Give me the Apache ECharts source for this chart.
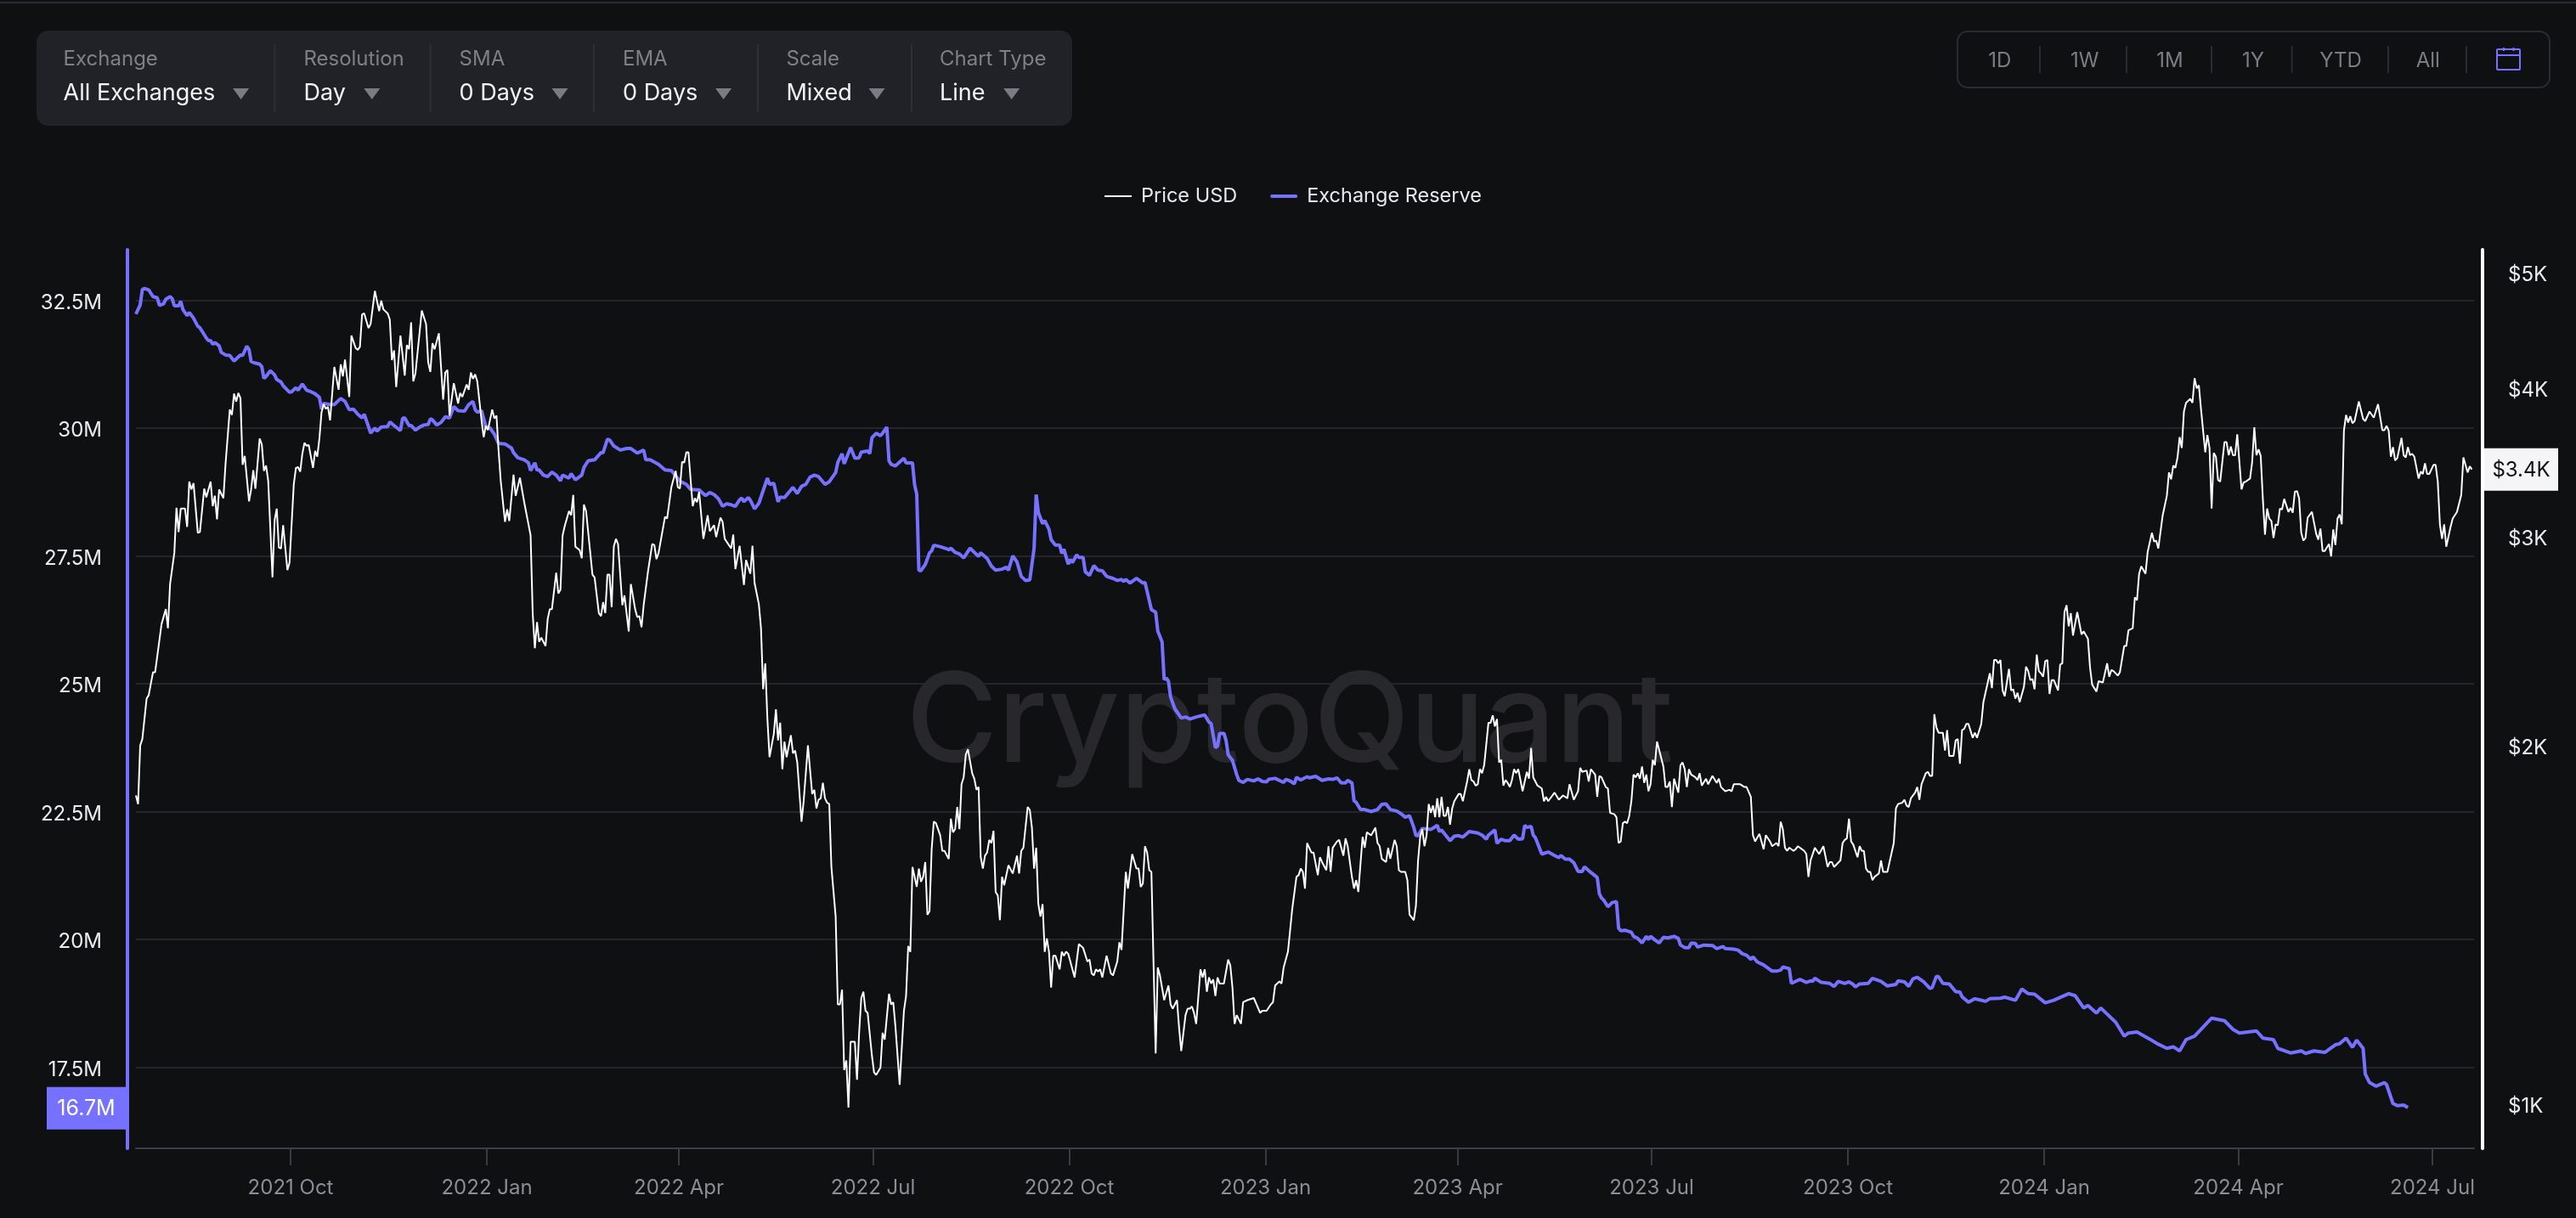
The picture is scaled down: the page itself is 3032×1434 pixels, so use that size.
<!DOCTYPE html>
<html><head><meta charset="utf-8">
<style>html,body{margin:0;padding:0;background:#0f1012}#c{width:3032px;height:1434px}</style>
<script src="https://cdn.jsdelivr.net/npm/echarts@6/dist/echarts.min.js"></script>
</head><body><div id="c"></div>
<script>
// day number (days after 2021-07-20), price in USD
const pricePoints = [[0,1820],[1,1790],[2,2005],[3,2030],[5,2195],[6,2210],[8,2310],[9,2310],[12,2535],[14,2610],[15,2515],[16,2740],[18,2910],[19,3175],[20,3030],[21,3170],[23,3170],[24,3060],[25,3340],[26,3290],[27,3330],[29,3025],[30,3030],[32,3295],[33,3240],[35,3340],[36,3185],[37,3250],[38,3105],[39,3290],[41,3235],[42,3455],[44,3840],[45,3800],[46,3960],[47,3900],[48,3965],[49,3925],[50,3450],[51,3510],[53,3215],[54,3290],[55,3415],[56,3295],[58,3630],[59,3590],[60,3410],[61,3445],[62,3345],[64,2775],[65,3100],[66,3170],[67,2940],[68,2935],[69,3070],[71,2815],[72,2855],[74,3325],[75,3430],[76,3435],[77,3405],[78,3525],[79,3600],[80,3580],[81,3585],[83,3430],[84,3545],[85,3505],[86,3630],[87,3820],[88,3880],[89,3845],[90,3860],[91,3760],[93,4170],[95,3990],[96,4190],[97,4095],[98,4230],[100,3935],[101,4430],[103,4325],[104,4310],[105,4335],[106,4615],[107,4625],[109,4495],[110,4530],[112,4830],[114,4645],[115,4740],[116,4660],[118,4625],[119,4570],[120,4225],[121,4305],[122,4010],[124,4430],[126,4100],[127,4350],[128,4315],[129,4545],[130,4055],[131,4115],[134,4650],[136,4530],[137,4205],[138,4130],[139,4365],[140,4315],[142,4450],[144,3915],[145,4125],[146,4145],[147,3795],[149,4040],[151,3885],[152,3965],[153,3935],[155,4030],[156,3990],[157,4125],[158,4075],[159,4110],[160,4055],[162,3760],[163,3640],[164,3720],[165,3690],[167,3840],[168,3775],[169,3795],[170,3545],[171,3345],[173,3090],[174,3165],[175,3095],[177,3385],[178,3250],[180,3365],[182,3210],[185,3010],[186,2585],[187,2420],[188,2545],[189,2450],[190,2470],[192,2430],[193,2560],[194,2610],[195,2610],[197,2800],[198,2690],[199,2710],[200,3010],[201,3065],[203,3155],[204,3130],[205,3255],[206,2945],[208,2925],[209,2880],[210,3195],[211,3155],[214,2790],[215,2775],[217,2590],[218,2575],[219,2645],[220,2590],[221,2790],[222,2790],[223,2620],[224,2945],[225,2990],[226,2960],[228,2630],[229,2680],[231,2500],[232,2740],[234,2610],[235,2570],[236,2575],[237,2520],[238,2630],[240,2805],[242,2960],[243,2955],[244,2875],[245,2910],[248,3120],[249,3110],[251,3305],[253,3410],[254,3305],[255,3295],[256,3470],[257,3465],[258,3535],[259,3535],[261,3185],[262,3235],[263,3210],[264,3275],[266,2990],[268,3130],[269,3035],[271,3070],[272,3000],[274,3115],[275,3090],[276,2990],[279,2935],[280,3015],[281,2820],[283,2950],[285,2735],[286,2870],[288,2795],[289,2950],[290,2745],[292,2635],[293,2515],[294,2235],[295,2350],[296,2110],[297,1960],[299,2050],[300,2150],[301,2025],[302,2095],[303,1915],[304,2020],[305,1960],[307,2045],[308,1975],[309,1985],[310,1940],[312,1730],[313,1800],[315,2005],[317,1825],[318,1840],[319,1775],[320,1805],[321,1810],[322,1865],[323,1810],[324,1795],[325,1790],[326,1585],[328,1440],[329,1215],[330,1215],[331,1250],[332,1070],[333,1090],[334,995],[335,1130],[337,1130],[338,1050],[339,1150],[340,1230],[341,1245],[342,1200],[343,1195],[345,1100],[346,1065],[347,1060],[349,1075],[350,1150],[351,1135],[353,1240],[354,1215],[355,1220],[356,1165],[358,1040],[360,1200],[361,1235],[362,1360],[363,1345],[364,1585],[366,1525],[367,1580],[368,1540],[369,1555],[370,1600],[371,1445],[372,1455],[373,1640],[374,1730],[375,1725],[377,1685],[378,1635],[379,1635],[381,1610],[382,1740],[383,1695],[384,1705],[385,1780],[386,1705],[387,1860],[388,1885],[389,1970],[390,1990],[392,1900],[393,1880],[394,1840],[395,1850],[396,1615],[397,1580],[398,1620],[399,1630],[400,1670],[401,1660],[402,1700],[403,1510],[404,1500],[405,1430],[406,1555],[407,1530],[409,1590],[411,1565],[413,1620],[414,1565],[415,1635],[416,1645],[418,1780],[419,1770],[420,1710],[421,1580],[422,1645],[423,1475],[424,1440],[425,1475],[426,1345],[427,1380],[428,1345],[429,1255],[430,1335],[431,1335],[433,1300],[434,1345],[435,1335],[436,1345],[437,1340],[438,1320],[440,1280],[442,1365],[444,1355],[446,1320],[447,1325],[448,1290],[449,1285],[450,1300],[451,1295],[452,1300],[453,1280],[455,1335],[457,1290],[458,1285],[460,1320],[461,1370],[462,1350],[464,1570],[465,1520],[467,1625],[469,1580],[470,1580],[471,1525],[472,1535],[473,1650],[474,1630],[475,1575],[476,1570],[478,1105],[479,1305],[480,1285],[482,1225],[484,1260],[485,1215],[486,1205],[488,1225],[489,1160],[490,1110],[492,1190],[493,1205],[494,1205],[495,1210],[496,1195],[497,1170],[499,1300],[500,1280],[501,1300],[502,1245],[503,1280],[504,1265],[505,1275],[506,1235],[507,1280],[508,1265],[510,1265],[512,1325],[513,1310],[514,1255],[515,1170],[516,1190],[518,1170],[519,1220],[521,1225],[524,1230],[527,1195],[528,1200],[530,1200],[532,1215],[533,1220],[534,1260],[536,1270],[537,1265],[538,1305],[540,1345],[541,1400],[542,1460],[544,1555],[545,1560],[546,1580],[547,1570],[548,1520],[549,1660],[551,1630],[552,1630],[554,1560],[555,1615],[556,1600],[558,1575],[559,1650],[560,1570],[561,1645],[563,1665],[564,1670],[566,1620],[567,1675],[568,1650],[570,1555],[571,1520],[572,1545],[573,1510],[575,1680],[576,1645],[577,1695],[579,1685],[581,1710],[582,1660],[583,1650],[584,1610],[586,1600],[587,1645],[588,1610],[590,1670],[591,1650],[592,1575],[593,1570],[595,1570],[596,1545],[597,1445],[599,1430],[600,1470],[601,1605],[602,1680],[603,1705],[604,1650],[605,1685],[606,1790],[607,1760],[608,1785],[609,1745],[610,1810],[611,1745],[612,1815],[613,1750],[614,1750],[615,1780],[616,1720],[617,1775],[618,1800],[620,1825],[621,1825],[622,1800],[624,1870],[625,1915],[626,1875],[627,1870],[628,1855],[629,1860],[630,1915],[631,1900],[632,1930],[634,2095],[635,2095],[636,2125],[637,2080],[638,2110],[639,1940],[640,1950],[641,1855],[642,1875],[643,1865],[644,1850],[645,1875],[646,1915],[647,1900],[648,1915],[650,1835],[652,1905],[653,1880],[654,1995],[655,1885],[657,1855],[659,1845],[660,1800],[661,1815],[662,1800],[665,1830],[667,1805],[669,1820],[671,1810],[672,1860],[674,1805],[676,1835],[677,1920],[678,1905],[680,1910],[681,1870],[682,1915],[684,1895],[685,1815],[686,1890],[687,1885],[689,1850],[690,1845],[691,1760],[693,1755],[694,1745],[695,1660],[696,1665],[697,1725],[698,1730],[699,1725],[700,1750],[701,1800],[702,1895],[703,1885],[704,1900],[705,1880],[706,1925],[707,1865],[708,1895],[709,1835],[710,1860],[711,1950],[712,1930],[713,2020],[716,1925],[717,1850],[718,1850],[719,1870],[720,1780],[721,1880],[723,1830],[724,1930],[725,1940],[726,1915],[727,1850],[728,1915],[729,1895],[731,1885],[732,1875],[733,1900],[734,1855],[736,1880],[737,1860],[739,1890],[741,1865],[742,1880],[743,1850],[745,1835],[747,1840],[748,1835],[749,1860],[752,1860],[754,1850],[755,1850],[757,1815],[758,1685],[759,1665],[761,1690],[763,1640],[764,1685],[766,1665],[767,1650],[769,1660],[770,1650],[771,1730],[772,1705],[773,1645],[774,1635],[775,1645],[777,1635],[778,1640],[779,1650],[781,1640],[782,1635],[783,1625],[784,1555],[785,1605],[787,1645],[789,1625],[791,1650],[793,1585],[794,1600],[795,1600],[796,1585],[799,1605],[800,1660],[801,1670],[802,1675],[803,1740],[804,1665],[805,1655],[807,1615],[808,1650],[809,1635],[810,1635],[811,1580],[812,1570],[813,1570],[814,1545],[815,1555],[817,1565],[818,1605],[819,1570],[821,1570],[824,1660],[825,1775],[826,1790],[828,1795],[829,1805],[830,1785],[831,1780],[832,1810],[834,1830],[835,1850],[836,1805],[837,1860],[839,1900],[840,1905],[841,1890],[842,1890],[843,2130],[844,2075],[845,2055],[847,2055],[848,1985],[849,2065],[850,1965],[852,1965],[853,2025],[854,2030],[855,1935],[856,2065],[857,2070],[858,2090],[859,2090],[861,2035],[862,2055],[863,2035],[865,2090],[866,2180],[869,2305],[870,2240],[871,2365],[872,2365],[873,2350],[874,2365],[875,2230],[876,2205],[878,2325],[879,2230],[880,2235],[881,2195],[882,2220],[883,2180],[885,2245],[886,2335],[887,2315],[888,2275],[889,2280],[890,2235],[891,2390],[892,2315],[893,2305],[894,2290],[895,2360],[896,2365],[897,2215],[898,2275],[899,2275],[901,2230],[902,2345],[903,2350],[904,2595],[905,2630],[906,2525],[907,2590],[908,2480],[910,2595],[912,2485],[913,2500],[915,2465],[916,2330],[917,2255],[919,2225],[920,2270],[922,2265],[924,2350],[925,2290],[926,2320],[927,2315],[929,2295],[930,2310],[932,2430],[933,2430],[934,2505],[936,2515],[937,2670],[938,2655],[939,2795],[940,2835],[942,2795],[943,2915],[945,3025],[946,2975],[947,2980],[948,2935],[950,3125],[952,3250],[953,3400],[954,3355],[955,3445],[956,3430],[957,3500],[958,3640],[959,3565],[960,3825],[961,3890],[963,3920],[964,3890],[965,4080],[966,4000],[967,4025],[968,3845],[969,3685],[970,3535],[971,3655],[972,3565],[973,3170],[974,3530],[975,3505],[976,3350],[977,3340],[979,3605],[980,3605],[981,3515],[982,3575],[983,3515],[984,3515],[985,3660],[987,3290],[988,3335],[989,3340],[991,3360],[992,3470],[993,3710],[994,3515],[995,3555],[996,3510],[997,3230],[998,3015],[999,3170],[1000,3110],[1001,3095],[1002,2995],[1003,3075],[1004,3070],[1005,3170],[1006,3165],[1007,3230],[1009,3150],[1010,3175],[1011,3145],[1012,3275],[1013,3280],[1014,3235],[1015,3025],[1016,2980],[1017,2995],[1018,3115],[1020,3150],[1022,3020],[1023,2985],[1024,3050],[1025,2920],[1026,2920],[1028,2960],[1029,2890],[1030,3045],[1031,2955],[1032,3110],[1033,3135],[1034,3075],[1035,3685],[1036,3800],[1037,3745],[1038,3790],[1039,3740],[1040,3755],[1042,3900],[1044,3770],[1045,3755],[1047,3825],[1049,3780],[1051,3880],[1053,3690],[1054,3690],[1055,3720],[1056,3685],[1057,3505],[1058,3570],[1059,3480],[1060,3495],[1062,3635],[1063,3515],[1064,3500],[1065,3570],[1066,3515],[1067,3525],[1068,3505],[1070,3360],[1071,3405],[1072,3390],[1073,3460],[1074,3390],[1075,3390],[1077,3450],[1078,3450],[1079,3340],[1080,3075],[1081,2990],[1082,3075],[1083,2945],[1085,3060],[1086,3110],[1088,3150],[1090,3255],[1091,3500],[1093,3400],[1094,3440],[1095,3420]];

// day number, exchange reserve in millions
const reservePoints = [[0,32.23],[2,32.41],[3,32.71],[4,32.73],[6,32.70],[8,32.57],[10,32.55],[11,32.40],[13,32.43],[14,32.52],[16,32.57],[17,32.53],[18,32.39],[20,32.39],[21,32.48],[22,32.32],[24,32.20],[25,32.26],[27,32.15],[29,31.99],[30,31.96],[33,31.76],[34,31.71],[35,31.71],[36,31.64],[37,31.67],[39,31.61],[40,31.48],[42,31.43],[44,31.42],[46,31.31],[48,31.39],[49,31.43],[50,31.42],[52,31.60],[53,31.54],[54,31.30],[56,31.27],[58,31.25],[59,31.20],[60,30.97],[61,31.01],[63,31.12],[65,31.04],[66,30.95],[68,30.90],[69,30.83],[72,30.70],[73,30.71],[75,30.79],[76,30.74],[78,30.86],[80,30.74],[82,30.71],[84,30.67],[86,30.60],[87,30.37],[88,30.48],[91,30.46],[93,30.46],[96,30.58],[98,30.52],[100,30.36],[102,30.37],[104,30.27],[106,30.20],[107,30.27],[109,30.03],[110,29.90],[112,30.00],[113,29.94],[115,30.02],[118,30.03],[119,30.12],[121,30.05],[124,29.95],[125,30.19],[126,30.20],[128,30.05],[129,30.05],[131,29.96],[133,30.02],[135,30.06],[137,30.07],[138,30.18],[139,30.16],[141,30.06],[143,30.11],[145,30.22],[147,30.20],[149,30.42],[151,30.34],[154,30.33],[156,30.46],[158,30.52],[159,30.36],[160,30.31],[162,30.34],[164,30.03],[166,30.00],[168,29.88],[170,29.70],[173,29.69],[176,29.61],[177,29.52],[179,29.42],[182,29.38],[184,29.32],[185,29.17],[187,29.32],[188,29.18],[189,29.18],[191,29.08],[193,29.05],[195,29.14],[197,29.08],[199,28.97],[200,29.08],[203,29.02],[204,29.11],[206,28.99],[209,29.08],[210,29.23],[212,29.36],[215,29.38],[218,29.52],[219,29.52],[221,29.78],[222,29.77],[224,29.65],[227,29.57],[230,29.60],[232,29.60],[235,29.51],[238,29.57],[239,29.38],[241,29.38],[245,29.29],[248,29.18],[251,29.17],[255,28.96],[258,28.90],[260,28.80],[263,28.79],[264,28.79],[267,28.68],[269,28.74],[271,28.70],[273,28.62],[275,28.47],[277,28.52],[279,28.50],[281,28.47],[283,28.60],[284,28.63],[285,28.56],[287,28.64],[288,28.59],[290,28.42],[292,28.53],[296,29.02],[297,28.90],[299,28.92],[301,28.56],[302,28.65],[304,28.64],[308,28.84],[310,28.72],[312,28.86],[314,28.90],[316,29.04],[318,29.08],[320,29.05],[323,28.90],[325,28.95],[328,29.13],[329,29.33],[331,29.50],[332,29.30],[335,29.62],[337,29.41],[339,29.42],[340,29.53],[343,29.55],[344,29.50],[345,29.81],[347,29.90],[349,29.85],[350,29.90],[352,30.02],[353,29.36],[354,29.29],[356,29.26],[357,29.30],[360,29.41],[361,29.32],[364,29.32],[365,28.89],[366,28.71],[367,27.22],[368,27.21],[370,27.33],[372,27.56],[373,27.60],[374,27.71],[377,27.68],[380,27.64],[381,27.62],[382,27.65],[384,27.57],[386,27.54],[388,27.46],[391,27.65],[395,27.49],[396,27.56],[399,27.45],[401,27.30],[403,27.22],[406,27.24],[408,27.28],[409,27.22],[411,27.50],[413,27.38],[415,27.10],[417,27.02],[419,27.03],[421,27.64],[422,28.70],[423,28.35],[425,28.13],[426,28.19],[428,28.02],[429,27.82],[431,27.71],[433,27.71],[434,27.55],[435,27.63],[437,27.34],[438,27.43],[439,27.37],[441,27.52],[442,27.47],[444,27.47],[445,27.19],[447,27.12],[449,27.31],[451,27.22],[453,27.21],[455,27.10],[458,27.06],[460,27.02],[462,27.04],[463,27.00],[464,27.04],[466,26.97],[469,27.06],[472,26.97],[473,26.98],[475,26.63],[476,26.45],[478,26.40],[479,26.03],[481,25.82],[482,25.08],[483,25.11],[484,25.05],[485,24.74],[487,24.51],[490,24.33],[492,24.35],[494,24.31],[497,24.35],[501,24.39],[503,24.25],[504,24.22],[506,23.75],[507,23.78],[508,24.03],[510,24.03],[511,23.89],[512,23.61],[514,23.50],[516,23.22],[517,23.11],[519,23.07],[521,23.13],[524,23.10],[526,23.14],[528,23.09],[530,23.08],[531,23.13],[534,23.15],[538,23.07],[539,23.13],[541,23.10],[543,23.04],[544,23.17],[546,23.12],[549,23.18],[550,23.16],[553,23.19],[556,23.11],[559,23.14],[561,23.13],[563,23.16],[565,23.06],[567,23.06],[568,23.11],[570,23.06],[571,22.71],[572,22.68],[574,22.54],[576,22.54],[579,22.50],[582,22.54],[584,22.64],[586,22.65],[588,22.54],[591,22.51],[593,22.46],[595,22.39],[597,22.42],[599,22.19],[600,22.03],[601,22.03],[603,22.17],[607,22.15],[610,22.23],[611,22.11],[612,22.14],[616,21.93],[618,22.02],[620,22.03],[622,22.00],[625,22.11],[629,22.08],[631,22.04],[633,21.96],[634,22.04],[637,22.14],[638,21.88],[640,21.96],[642,21.93],[644,21.93],[646,22.04],[648,21.96],[650,21.97],[651,22.23],[652,22.19],[654,22.21],[655,22.04],[656,21.99],[659,21.67],[662,21.71],[665,21.64],[667,21.60],[668,21.64],[670,21.57],[672,21.57],[674,21.50],[676,21.33],[678,21.33],[679,21.42],[682,21.31],[685,21.21],[686,20.89],[687,20.81],[688,20.77],[690,20.64],[692,20.72],[694,20.74],[695,20.22],[696,20.17],[698,20.18],[701,20.14],[702,20.06],[704,20.02],[706,19.93],[708,20.06],[709,20.00],[710,20.06],[712,19.99],[714,19.93],[716,20.04],[718,20.03],[721,20.06],[723,20.02],[724,19.89],[726,19.84],[728,19.84],[729,19.93],[731,19.92],[732,19.85],[735,19.89],[739,19.88],[741,19.82],[744,19.86],[745,19.82],[749,19.81],[751,19.79],[753,19.72],[755,19.69],[757,19.61],[758,19.66],[760,19.56],[763,19.50],[767,19.38],[769,19.38],[771,19.40],[772,19.46],[775,19.43],[776,19.14],[780,19.22],[783,19.16],[785,19.19],[786,19.18],[787,19.24],[790,19.16],[794,19.14],[796,19.08],[798,19.18],[801,19.14],[803,19.17],[805,19.12],[806,19.07],[808,19.13],[812,19.14],[814,19.24],[818,19.18],[821,19.09],[825,19.12],[826,19.19],[829,19.17],[831,19.08],[833,19.23],[835,19.26],[838,19.17],[841,19.04],[842,19.06],[844,19.28],[845,19.27],[847,19.14],[850,19.13],[853,18.98],[855,18.97],[856,18.88],[859,18.77],[862,18.84],[864,18.82],[867,18.79],[869,18.84],[874,18.85],[876,18.87],[881,18.81],[884,19.03],[887,18.94],[890,18.93],[895,18.76],[899,18.81],[906,18.94],[909,18.90],[913,18.66],[915,18.71],[919,18.56],[921,18.66],[924,18.54],[928,18.38],[932,18.11],[934,18.17],[938,18.19],[944,18.05],[948,17.95],[952,17.87],[955,17.90],[958,17.82],[961,18.04],[965,18.11],[970,18.33],[973,18.46],[979,18.41],[983,18.24],[986,18.17],[994,18.21],[997,18.07],[1002,18.04],[1004,17.87],[1010,17.78],[1015,17.82],[1017,17.77],[1021,17.82],[1026,17.79],[1031,17.94],[1033,17.96],[1036,18.07],[1039,17.89],[1041,18.03],[1044,17.87],[1045,17.37],[1047,17.20],[1050,17.13],[1054,17.20],[1055,17.16],[1058,16.79],[1060,16.75],[1063,16.76],[1065,16.71]];

const xTickDates = ['2021-10-01','2022-01-01','2022-04-01','2022-07-01','2022-10-01','2023-01-01','2023-04-01','2023-07-01','2023-10-01','2024-01-01','2024-04-01','2024-07-01'];
const xTickLabels = ['2021 Oct','2022 Jan','2022 Apr','2022 Jul','2022 Oct','2023 Jan','2023 Apr','2023 Jul','2023 Oct','2024 Jan','2024 Apr','2024 Jul'];
const reserveTicks = [17.5,20,22.5,25,27.5,30,32.5];
const priceTicks = [1000,2000,3000,4000,5000];
const reserveTag = 16.7, priceTag = 3420;
const filterLabels = ['Exchange','Resolution','SMA','EMA','Scale','Chart Type'];
const filterValues = ['All Exchanges','Day','0 Days','0 Days','Mixed','Line'];
const rangeLabels = ['1D','1W','1M','1Y','YTD','All'];

const FONT = 'Inter, "Noto Sans", sans-serif';
const DAY = 86400000, BASE = Date.UTC(2021,6,20,12);
const BLUE = '#7672ff', BG = '#0f1012';
const xTicks = xTickDates.map(d => (Date.parse(d + 'T00:00:00Z') - BASE) / DAY);

const chart = echarts.init(document.getElementById('c'), null, {renderer:'canvas'});

function toolbarGraphics(){
  const g = [];
  const txt = (x,y,s,fill,size,align) => g.push({type:'text',x,y,silent:true,z:5,style:{text:s,fill,font:`${size}px ${FONT}`,textAlign:align||'left',textVerticalAlign:'middle'}});
  const line = (x1,y1,x2,y2,c,w) => g.push({type:'line',silent:true,z:5,shape:{x1,y1,x2,y2},style:{stroke:c,lineWidth:w||2}});
  g.push({type:'rect',silent:true,z:1,shape:{x:0,y:2,width:3032,height:2},style:{fill:'#2a2a32'}});
  g.push({type:'rect',silent:true,z:1,shape:{x:43,y:36,width:1219,height:112,r:14},style:{fill:'#212227'}});
  const colX=[74.6,357.4,540.6,733,925.4,1106], triX=[283.6,437.8,659,851.6,1032,1190.7], sepX=[323.4,506.6,699,892,1073];
  filterLabels.forEach((s,i)=>{
    txt(colX[i],70,s,'#7f7f88',24);
    txt(colX[i],110,filterValues[i],'#f4f4f6',27);
    g.push({type:'polygon',silent:true,z:5,shape:{points:[[triX[i]-9.5,104],[triX[i]+9.5,104],[triX[i],117]]},style:{fill:'#7b7b84'}});
  });
  sepX.forEach(x=>line(x,52,x,132,'#2e2f35'));
  g.push({type:'rect',silent:true,z:1,shape:{x:2304,y:37,width:697,height:66,r:12},style:{fill:'transparent',stroke:'#2a2a32',lineWidth:2}});
  const rX=[2353.8,2453.6,2554,2652,2755,2857.8];
  rangeLabels.forEach((s,i)=>txt(rX[i],72,s,'#7c7c85',24,'center'));
  [2401,2503,2603,2697.6,2811,2903].forEach(x=>line(x,54,x,86,'#2a2a32'));
  g.push({type:'rect',silent:true,z:5,shape:{x:2939,y:58,width:27,height:24,r:1},style:{fill:'transparent',stroke:BLUE,lineWidth:2}});
  line(2939,65,2966,65,BLUE);
  line(2947,56,2947,60,BLUE);
  line(2958.5,56,2958.5,60,BLUE);
  // watermark
  g.push({type:'text',silent:true,z:0,x:1518,y:853,style:{text:'CryptoQuant',fill:'#27272c',font:`500 147px ${FONT}`,textAlign:'center',textVerticalAlign:'middle'}});
  return g;
}

chart.setOption({
  animation:false,
  backgroundColor:BG,
  textStyle:{fontFamily:FONT},
  legend:{
    left:1295, top:214, itemWidth:32, itemHeight:16, itemGap:39,
    icon:'path://M0 7H32V9H0Z',
    textStyle:{color:'#e8e8ec',fontSize:23.5,fontFamily:FONT,padding:[0,0,0,6]},
    data:[{name:'Price USD',itemStyle:{color:'#ffffff'}},{name:'Exchange Reserve',icon:'path://M1 6H31A2 2 0 0 1 31 10H1A2 2 0 0 1 1 6Z',itemStyle:{color:BLUE}}]
  },
  grid:{left:160,right:120,top:294,bottom:82,containLabel:false},
  xAxis:{
    type:'value', min:0, max:1096,
    splitLine:{show:false},
    axisLine:{onZero:false,lineStyle:{color:'#3e3e48',width:2}},
    axisTick:{length:20,customValues:xTicks,lineStyle:{color:'#3a3a42',width:2}},
    axisLabel:{customValues:xTicks,color:'#8d8d96',fontSize:24,fontFamily:FONT,margin:35,hideOverlap:false,
      formatter:v=>xTickLabels[xTicks.indexOf(+v)]||''}
  },
  yAxis:[{
    type:'value', min:15.914, max:33.488, position:'left', offset:10,
    axisLine:{show:true,onZero:false,lineStyle:{color:BLUE,width:4}},
    axisTick:{show:false,customValues:reserveTicks},
    splitLine:{show:true,lineStyle:{color:'#25252b',width:2}},
    axisLabel:{customValues:reserveTicks,color:'#ececf0',fontSize:24,fontFamily:FONT,margin:30,verticalAlign:'top',lineHeight:6,
      formatter:v=>v+'M'}
  },{
    type:'log', logBase:10, min:919.6, max:5231, position:'right', offset:10,
    axisLine:{show:true,onZero:false,lineStyle:{color:'#ffffff',width:4}},
    axisTick:{show:false,customValues:priceTicks},
    splitLine:{show:false},minorSplitLine:{show:false},
    axisLabel:{customValues:priceTicks,color:'#ececf0',fontSize:24,fontFamily:FONT,margin:30,verticalAlign:'top',lineHeight:4,
      formatter:v=>'$'+Math.round(v/1000)+'K'}
  }],
  series:[
    {name:'Price USD',type:'line',yAxisIndex:1,showSymbol:false,symbol:'none',z:3,clip:true,
      lineStyle:{color:'#ffffff',width:2},itemStyle:{color:'#ffffff'},data:pricePoints},
    {name:'Exchange Reserve',type:'line',yAxisIndex:0,showSymbol:false,symbol:'none',z:2,clip:true,
      lineStyle:{color:BLUE,width:4},itemStyle:{color:BLUE},data:reservePoints}
  ],
  graphic:toolbarGraphics()
});

// value tags on the axes, placed through the library's own scales
const yRes = chart.convertToPixel({yAxisIndex:0}, reserveTag);
const yPri = chart.convertToPixel({yAxisIndex:1}, priceTag);
const tags = [
  {type:'rect',silent:true,z:6,shape:{x:55,y:yRes-25,width:93,height:50},style:{fill:BLUE}},
  {type:'text',silent:true,z:7,x:101.5,y:yRes+1,style:{text:reserveTag.toFixed(1)+'M',fill:'#ffffff',font:`25px ${FONT}`,textAlign:'center',textVerticalAlign:'middle'}},
  {type:'rect',silent:true,z:6,shape:{x:2924,y:yPri-25,width:87,height:50},style:{fill:'#f5f5f8'}},
  {type:'text',silent:true,z:7,x:2967.5,y:yPri+1,style:{text:'$'+(priceTag/1000).toFixed(1)+'K',fill:'#111114',font:`24px ${FONT}`,textAlign:'center',textVerticalAlign:'middle'}}
];
chart.setOption({graphic:toolbarGraphics().concat(tags)},{replaceMerge:['graphic']});
</script></body></html>
